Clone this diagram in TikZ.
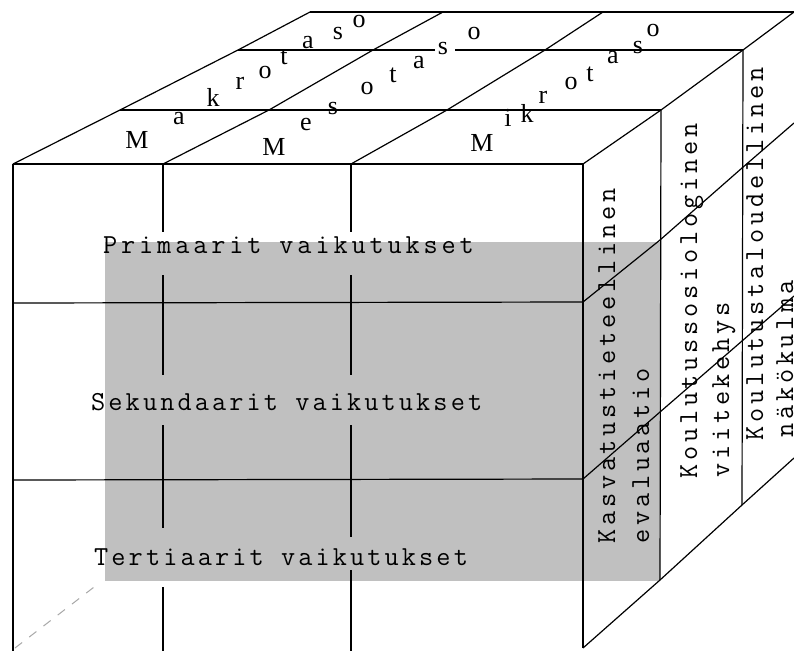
\documentclass[tikz,border=0pt]{standalone}
\usepackage{fontspec}
\setmainfont{Liberation Serif}
\newfontfamily\typeh{Latin Modern Mono}[LetterSpace=11.3]
\newfontfamily\typehw{Latin Modern Mono}[LetterSpace=14]
\newfontfamily\typev{Latin Modern Mono}[LetterSpace=13.8]
\definecolor{panelgrey}{HTML}{C0C0C0}
\definecolor{hiddengrey}{HTML}{A8A8A8}
\begin{document}
\begin{tikzpicture}[x=1pt,y=-1pt,
  edge/.style={line width=1.2pt, black, line join=round},
  hid/.style={line width=1pt, hiddengrey, dash pattern=on 9pt off 9pt},
  mono/.style={font=\typeh\fontsize{27.5}{30}\selectfont, inner sep=0pt, anchor=base west},
  monow/.style={font=\typehw\fontsize{27.5}{30}\selectfont, inner sep=0pt, anchor=base west},
  monov/.style={font=\typev\fontsize{27.5}{30}\selectfont, inner sep=0pt, rotate=90, anchor=base west},
  toplet/.style={font=\fontsize{26}{28}\selectfont, inner sep=0pt}]
\useasboundingbox (0,0) rectangle (794,651);
\clip (0,0) rectangle (794,651);
\fill[white] (0,0) rectangle (794,651);
% shaded region
\fill[panelgrey] (105,242) rectangle (660,581);
% named corners
\coordinate (A0) at (13,164);  \coordinate (A1) at (120,110); \coordinate (A2) at (238,50);  \coordinate (A3) at (310,12);
\coordinate (B0) at (163,164); \coordinate (B1) at (269,110); \coordinate (B2) at (373,50);  \coordinate (B3) at (443,12);
\coordinate (C0) at (351,164); \coordinate (C1) at (447,110); \coordinate (C2) at (545,50);  \coordinate (C3) at (603,12);
\coordinate (D0) at (583,164); \coordinate (D1) at (661,110); \coordinate (D2) at (743,50);  \coordinate (D3) at (794,12);
\coordinate (E0) at (583,302); \coordinate (E1) at (660,240); \coordinate (E2) at (742,168); \coordinate (E3) at (794,123);
\coordinate (F0) at (583,479); \coordinate (F1) at (660,412); \coordinate (F2) at (742,341); \coordinate (F3) at (794,296);
\coordinate (G0) at (583,648); \coordinate (G1) at (660,580); \coordinate (G2) at (742,505); \coordinate (G3) at (794,458);
% top face
\draw[edge] (A0) -- (A1) -- (A2) -- (A3);
\draw[edge] (B0) -- (B1) -- (B2) -- (B3);
\draw[edge] (C0) -- (C1) -- (C2) -- (C3);
\draw[edge] (D0) -- (D1) -- (D2) -- (D3);
\draw[edge] (A0) -- (D0);
\draw[edge] (A1) -- (D1);
\draw[edge] (A2) -- (435,50);
\draw[edge] (455,50) -- (D2);
\draw[edge] (A3) -- (794,12);
% right face
\draw[edge] (E0) -- (E1) -- (E2) -- (E3);
\draw[edge] (F0) -- (F1) -- (F2) -- (F3);
\draw[edge] (G0) -- (G1) -- (G2) -- (G3);
\draw[edge] (D1) -- (G1);
\draw[edge] (D2) -- (G2);
% front face
\draw[edge] (A0) -- (13,651);
\draw[edge] (D0) -- (G0);
\draw[edge] (13,303) -- (E0);
\draw[edge] (13,480) -- (F0);
\draw[edge] (B0) -- (163,232);
\draw[edge] (163,275) -- (163,375);
\draw[edge] (163,425) -- (163,528);
\draw[edge] (163,587) -- (163,651);
\draw[edge] (C0) -- (351,232);
\draw[edge] (351,275) -- (351,375);
\draw[edge] (351,425) -- (351,537);
\draw[edge] (351,570) -- (351,651);
% hidden edge
\draw[hid] (15,648) -- (98,584);
% front labels
\node[monow] (prim) at (103,253) {Primaarit vaikutukset};
\node[mono] (sek) at (91,410) {Sekundaarit vaikutukset};
\node[mono] (ter) at (94,565) {Tertiaarit vaikutukset};
% side labels
\node[monov] (kas1) at (615,544) {Kasvatustieteellinen};
\node[monov] (kas2) at (649,544) {evaluaatio};
\node[monov] (kou1) at (697,479) {Koulutussosiologinen};
\node[monov] (kou2) at (729,478) {viitekehys};
\node[monov] (tal1) at (763,441) {Koulutustaloudellinen};
\node[monov] (tal2) at (793,438) {näkökulma};
% top labels
\foreach \ch/\px/\py [count=\i] in {M/137/140, a/179/119, k/213/97, r/240/83, o/265/72, t/284/57, a/308/43, s/338/33, o/359/21}
  \node[toplet] (mak\i) at (\px,\py) {\ch};
\foreach \ch/\px/\py [count=\i] in {M/274/147, e/306/124, s/333/108, o/367/88, t/393/75, a/419/63, s/443/48, o/474/33}
  \node[toplet] (mes\i) at (\px,\py) {\ch};
\foreach \ch/\px/\py [count=\i] in {M/482/143, i/508/118, k/527/113, r/543/97, o/571/83, t/590/74, a/613/58, s/638/47, o/653/30}
  \node[toplet] (mik\i) at (\px,\py) {\ch};
\end{tikzpicture}
\end{document}
